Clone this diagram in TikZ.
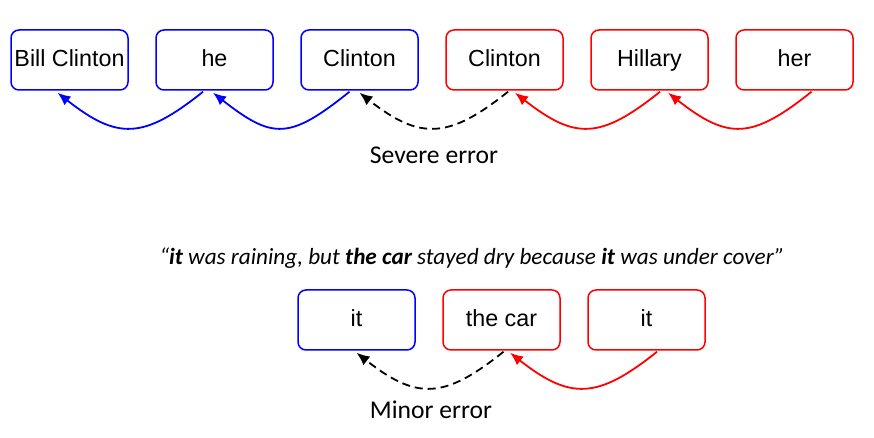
\documentclass[tikz,border=0pt]{standalone}
\usepackage{fontspec}
\setmainfont{Carlito}
\newfontfamily\arialfont{Liberation Sans}
\usetikzlibrary{arrows.meta,calc}

\tikzset{
  mention/.style={draw, line width=0.75pt, rounded corners=4pt,
    minimum width=58.5pt, minimum height=30pt, inner sep=0pt,
    text height=9pt, text depth=2.3pt,
    font=\arialfont\fontsize{11.65}{14}\selectfont},
  blue mention/.style={mention, draw=blue},
  red mention/.style={mention, draw=red},
  link/.style={line width=0.9pt, -{Latex[length=6.5pt,width=5.5pt]}},
  wrong link/.style={link, black, dash pattern=on 4pt off 2.5pt},
  caption/.style={font=\fontsize{12.8}{15}\selectfont},
}

\begin{document}
\begin{tikzpicture} [x=0.5pt,y=-0.5pt]

\useasboundingbox (0,0) rectangle (874,438);

% severe error: one chain split in two
\node [blue mention] (bill)     at (69.5,60)  {Bill Clinton};
\node [blue mention] (he)       at (214.5,60) {he};
\node [blue mention] (clintonb) at (359.5,60) {Clinton};
\node [red mention]  (clintonr) at (504.5,60) {Clinton};
\node [red mention]  (hillary)  at (649.5,60) {Hillary};
\node [red mention]  (her)      at (794.5,60) {her};

\draw [link, blue] ($(he.south)+(-11.5,1)$) .. controls +(-60,48) and +(60,47) .. ($(bill.south)+(-12,2)$);
\draw [link, blue] ($(clintonb.south)+(-10,1)$) .. controls +(-60,48) and +(60,47) .. ($(he.south)+(-1.5,2)$);
\draw [wrong link] ($(clintonr.south)+(3.5,1)$) .. controls +(-60,48) and +(60,47) .. ($(clintonb.south)+(0,2)$);
\draw [link, red] ($(hillary.south)+(10.5,1)$) .. controls +(-60,48) and +(60,47) .. ($(clintonr.south)+(10.5,2)$);
\draw [link, red] ($(her.south)+(17,1)$) .. controls +(-60,48) and +(60,47) .. ($(hillary.south)+(18.5,2)$);

\node [caption] (severe) at (434,155) {Severe error};

% minor error
\node [font=\itshape\fontsize{11.6}{14}\selectfont] (quote) at (472,258)
  {“\textbf{it} was raining, but \textbf{the car} stayed dry because \textbf{it} was under cover”};

\node [blue mention] (ita) at (356.5,320) {it};
\node [red mention]  (car) at (501.5,320) {the car};
\node [red mention]  (itb) at (646.5,320) {it};

\draw [wrong link] ($(car.south)+(2,1)$) .. controls +(-60,48) and +(60,47) .. ($(ita.south)+(0,2)$);
\draw [link, red] ($(itb.south)+(10.5,1)$) .. controls +(-60,48) and +(60,47) .. ($(car.south)+(8.5,2)$);

\node [caption] (minor) at (431,410) {Minor error};

\end{tikzpicture}
\end{document}
